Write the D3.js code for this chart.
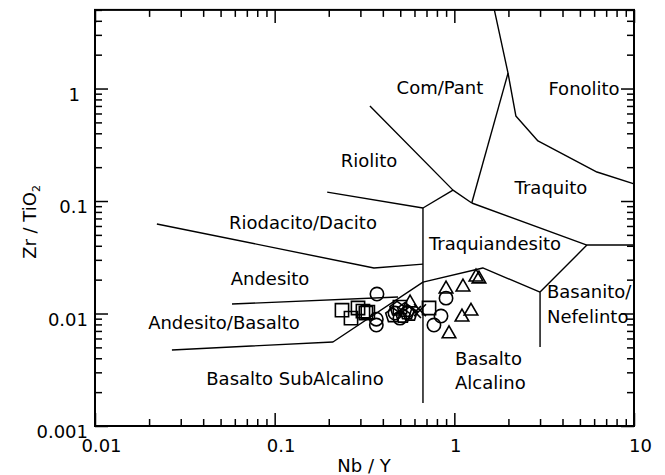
<!DOCTYPE html>
<html>
<head>
<meta charset="utf-8">
<script src="https://cdn.jsdelivr.net/npm/d3@7"></script>
<style>
  html, body { margin: 0; padding: 0; background: #fff; }
  svg { display: block; font-family: "DejaVu Sans", sans-serif; }
</style>
</head>
<body>
<svg id="chart" width="665" height="475"></svg>
<script>
// Zr/TiO2 vs Nb/Y rock classification (Winchester & Floyd, 1977)

const xDomain = [0.01, 10];
const yDomain = [0.001, 5];
const xMajorTicks = [0.01, 0.1, 1, 10];
const xTickLabels = ["0.01", "0.1", "1", "10"];
const yMajorTicks = [0.001, 0.01, 0.1, 1];
const yTickLabels = ["0.001", "0.01", "0.1", "1"];

// Field boundaries, vertices as [Nb/Y, Zr/TiO2]
const boundFonolito   = [[1.67, 5], [1.99, 1.37], [2.2, 0.57], [2.92, 0.342], [6.22, 0.181], [10, 0.142]];
const boundComTraq    = [[1.25, 0.096], [1.99, 1.37]];
const boundComRiol    = [[0.339, 0.70], [0.983, 0.125], [1.25, 0.096]];
const boundRiolTqa    = [[0.669, 0.0867], [0.983, 0.125]];
const boundRiolRiod   = [[0.196, 0.120], [0.669, 0.0867]];
const boundTraqTqa    = [[1.25, 0.096], [5.47, 0.0406], [10, 0.0406]];
const boundBasanito   = [[5.47, 0.0406], [3.0, 0.0155], [3.0, 0.00504]];
const boundSubAlk     = [[0.0268, 0.00474], [0.211, 0.00558], [0.669, 0.0190], [1.44, 0.0254], [3.0, 0.0155]];
const boundAlkVert    = [[0.669, 0.0867], [0.669, 0.0016]];
const boundRiodAnd    = [[0.0221, 0.0625], [0.357, 0.0254], [0.669, 0.0275]];
const boundAndAB      = [[0.0579, 0.01215], [0.486, 0.0140]];

const boundaries = [boundFonolito, boundComTraq, boundComRiol, boundRiolTqa, boundRiolRiod,
  boundTraqTqa, boundBasanito, boundSubAlk, boundAlkVert, boundRiodAnd, boundAndAB];

// Field names anchored in data units
const fieldNames  = ["Com/Pant", "Fonolito", "Riolito", "Traquito", "Riodacito/Dacito", "Traquiandesito",
  "Andesito", "Andesito/Basalto", "Basalto SubAlcalino", "Basalto", "Alcalino", "Basanito/", "Nefelinto"];
const fieldAnchorX = [0.832, 5.27, 0.335, 3.45, 0.1438, 1.684, 0.0942, 0.0522, 0.1298, 1.009, 1.009, 3.279, 3.279];
const fieldAnchorY = [0.894, 0.876, 0.2005, 0.1154, 0.0564, 0.0367, 0.0179, 0.00728, 0.002314, 0.003485, 0.002132, 0.01373, 0.00823];
const fieldAlign   = ["middle", "middle", "middle", "middle", "middle", "middle", "middle", "middle", "middle", "start", "start", "start", "start"];

// Samples [Nb/Y, Zr/TiO2]
const squares = [[0.237, 0.0107], [0.291, 0.0112], [0.266, 0.0091], [0.322, 0.0101], [0.31, 0.0105], [0.33, 0.0103], [0.498, 0.0114], [0.723, 0.0112]];
const circles = [[0.371, 0.0149], [0.368, 0.0089], [0.368, 0.0079], [0.843, 0.0095], [0.77, 0.0079], [0.899, 0.0137], [0.4675, 0.0101], [0.498, 0.0091]];
const pentagons = [[0.53, 0.0107], [0.567, 0.0099], [0.48, 0.0110], [0.518, 0.0095], [0.455, 0.0096], [0.545, 0.0102]];
const crosses = [[0.604, 0.0103], [0.644, 0.0107]];
const triangles = [[0.899, 0.0165], [1.117, 0.0172], [1.32, 0.0211], [1.371, 0.0203], [1.103, 0.0093], [1.238, 0.0105], [0.934, 0.0066], [0.567, 0.0124]];

const svg = d3.select("#chart");
const W = 665, H = 475;
const plot = { left: 95, right: 634, top: 9.9, bottom: 426 };

svg.append("rect").attr("width", W).attr("height", H).attr("fill", "#fff");

const x = d3.scaleLog().domain(xDomain).range([plot.left, plot.right]);
const y = d3.scaleLog().domain(yDomain).range([plot.bottom, plot.top]);

const isMajor = (arr) => (v) => arr.some(m => Math.abs(v - m) / m < 1e-6);
const xMinor = x.ticks().filter(v => !isMajor(xMajorTicks)(v));
const yMinor = y.ticks().filter(v => !isMajor(yMajorTicks)(v));

// boundaries
const line = d3.line().x(d => x(d[0])).y(d => y(d[1]));
svg.append("g")
  .selectAll("path")
  .data(boundaries)
  .join("path")
  .attr("d", line)
  .attr("fill", "none")
  .attr("stroke", "#000")
  .attr("stroke-width", 1.4)
  .attr("stroke-linejoin", "round");

// field names
svg.append("g")
  .selectAll("text")
  .data(fieldNames)
  .join("text")
  .attr("x", (d, i) => x(fieldAnchorX[i]))
  .attr("y", (d, i) => y(fieldAnchorY[i]))
  .attr("text-anchor", (d, i) => fieldAlign[i])
  .attr("font-size", 18)
  .attr("fill", "#000")
  .text(d => d);

// sample symbols
const pentagon = {
  draw(ctx, size) {
    const r = Math.sqrt(size / 2.3776);
    for (let k = 0; k < 5; k++) {
      const a = -Math.PI / 2 + k * 2 * Math.PI / 5;
      const px = r * Math.cos(a), py = r * Math.sin(a);
      if (k === 0) ctx.moveTo(px, py); else ctx.lineTo(px, py);
    }
    ctx.closePath();
  }
};
const seriesDefs = [
  { data: squares, type: d3.symbolSquare, size: 175 },
  { data: circles, type: d3.symbolCircle, size: 140 },
  { data: pentagons, type: pentagon, size: 135 },
  { data: crosses, type: d3.symbolTimes, size: 95 },
  { data: triangles, type: d3.symbolTriangle, size: 80 }
];
const gPts = svg.append("g");
seriesDefs.forEach(s => {
  gPts.append("g")
    .selectAll("path")
    .data(s.data)
    .join("path")
    .attr("transform", d => `translate(${x(d[0])},${y(d[1])})`)
    .attr("d", d3.symbol().type(s.type).size(s.size))
    .attr("fill", "none")
    .attr("stroke", "#000")
    .attr("stroke-width", 1.6);
});

// axes: ticks point inward on all four sides
function styleAxis(g) {
  g.select(".domain").remove();
  g.selectAll(".tick line").attr("stroke", "#000").attr("stroke-width", 1.5);
  g.selectAll("text").attr("fill", "#000").attr("font-size", 18)
    .attr("font-family", "DejaVu Sans, sans-serif");
}
const majorLen = 13, minorLen = 7;

// bottom
svg.append("g").attr("transform", `translate(0,${plot.bottom})`)
  .call(d3.axisBottom(x).tickValues(xMajorTicks).tickFormat((d, i) => xTickLabels[i])
    .tickSizeInner(-majorLen).tickSizeOuter(0).tickPadding(13))
  .call(styleAxis)
  .call(g => g.selectAll("text").attr("dx", d => d === 1 ? 1 : 6));
svg.append("g").attr("transform", `translate(0,${plot.bottom})`)
  .call(d3.axisBottom(x).tickValues(xMinor).tickFormat("").tickSizeInner(-minorLen).tickSizeOuter(0))
  .call(styleAxis);
// top
svg.append("g").attr("transform", `translate(0,${plot.top})`)
  .call(d3.axisTop(x).tickValues(xMajorTicks).tickFormat("").tickSizeInner(-majorLen).tickSizeOuter(0))
  .call(styleAxis);
svg.append("g").attr("transform", `translate(0,${plot.top})`)
  .call(d3.axisTop(x).tickValues(xMinor).tickFormat("").tickSizeInner(-minorLen).tickSizeOuter(0))
  .call(styleAxis);
// left
svg.append("g").attr("transform", `translate(${plot.left},0)`)
  .call(d3.axisLeft(y).tickValues(yMajorTicks).tickFormat((d, i) => yTickLabels[i])
    .tickSizeInner(-majorLen).tickSizeOuter(0).tickPadding(7))
  .call(styleAxis)
  .call(g => g.selectAll("text").attr("dy", "0.64em").attr("dx", d => d === 1 ? -8 : 0));
svg.append("g").attr("transform", `translate(${plot.left},0)`)
  .call(d3.axisLeft(y).tickValues(yMinor).tickFormat("").tickSizeInner(-minorLen).tickSizeOuter(0))
  .call(styleAxis);
// right
svg.append("g").attr("transform", `translate(${plot.right},0)`)
  .call(d3.axisRight(y).tickValues(yMajorTicks).tickFormat("").tickSizeInner(-majorLen).tickSizeOuter(0))
  .call(styleAxis);
svg.append("g").attr("transform", `translate(${plot.right},0)`)
  .call(d3.axisRight(y).tickValues(yMinor).tickFormat("").tickSizeInner(-minorLen).tickSizeOuter(0))
  .call(styleAxis);

// frame
svg.append("rect")
  .attr("x", plot.left).attr("y", plot.top)
  .attr("width", plot.right - plot.left).attr("height", plot.bottom - plot.top)
  .attr("fill", "none").attr("stroke", "#000").attr("stroke-width", 2);

// axis titles
svg.append("text")
  .attr("x", (plot.left + plot.right) / 2 - 0.5).attr("y", 472)
  .attr("text-anchor", "middle").attr("font-size", 18)
  .text("Nb / Y");

const yTitle = svg.append("text")
  .attr("transform", `translate(36,${(plot.top + plot.bottom) / 2 + 4}) rotate(-90)`)
  .attr("text-anchor", "middle").attr("font-size", 18);
yTitle.append("tspan").text("Zr / TiO");
yTitle.append("tspan").attr("font-size", 11).attr("dy", 4).text("2");
</script>
</body>
</html>
